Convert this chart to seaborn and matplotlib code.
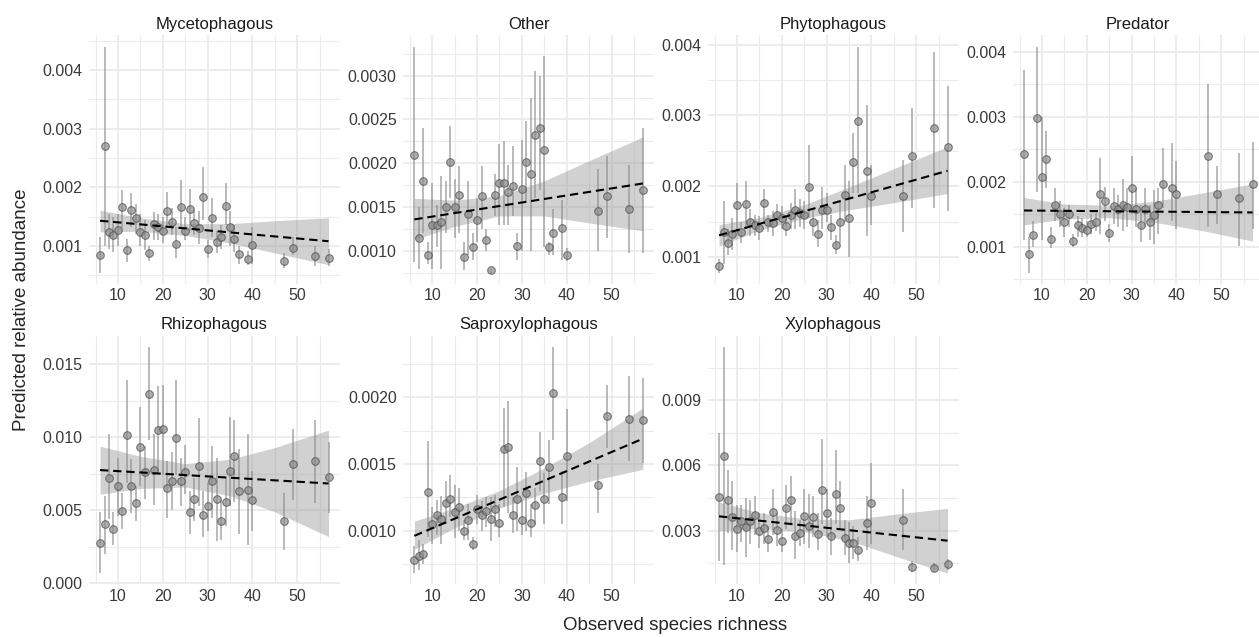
import matplotlib
matplotlib.use("Agg")
import matplotlib.pyplot as plt
import pandas as pd
import seaborn as sns
from matplotlib.ticker import MultipleLocator, FormatStrFormatter

# ============================================
# Predicted relative abundance of feeding guilds
# against observed species richness
# ============================================

# observed species richness of each site (shared x for every panel)
richness = [6, 7, 8, 9, 10, 11, 12, 13, 14, 15, 16, 17, 18, 19, 20, 21,
            22, 23, 24, 25, 26, 27, 28, 29, 30, 31, 32, 33, 34, 35, 36, 37,
            39, 40, 47, 49, 54, 57]

guilds = ["Mycetophagous", "Other", "Phytophagous", "Predator",
          "Rhizophagous", "Saproxylophagous", "Xylophagous"]

# --- predicted value and interval per site ---
myc_est = [0.00085, 0.0027, 0.00124, 0.00118, 0.00127, 0.00167, 0.00093, 0.00161,
           0.00148, 0.00123, 0.00118, 0.00088, 0.00137, 0.00132, 0.00126, 0.0016,
           0.0014, 0.00103, 0.00166, 0.00126, 0.00163, 0.00139, 0.00131, 0.00183,
           0.00095, 0.00148, 0.00106, 0.00116, 0.00168, 0.00133, 0.00111, 0.00086,
           0.00078, 0.00101, 0.00075, 0.00097, 0.00083, 0.0008]
myc_lo = [0.00054, 0.001, 0.00095, 0.0009, 0.001, 0.0013, 0.00073, 0.00132,
          0.0012, 0.001, 0.00093, 0.00075, 0.0011, 0.0011, 0.00105, 0.00133,
          0.00118, 0.0008, 0.0013, 0.0011, 0.00125, 0.00118, 0.00103, 0.00145,
          0.0008, 0.00116, 0.00088, 0.00095, 0.00135, 0.001, 0.0009, 0.0007,
          0.00068, 0.0007, 0.00063, 0.00085, 0.00065, 0.00065]
myc_hi = [0.00115, 0.0044, 0.00155, 0.0015, 0.00155, 0.00195, 0.00112, 0.0019,
          0.00172, 0.00155, 0.00145, 0.001, 0.00158, 0.00155, 0.0015, 0.00192,
          0.00165, 0.00132, 0.00212, 0.0015, 0.00198, 0.00162, 0.0016, 0.00235,
          0.0011, 0.00182, 0.00125, 0.00135, 0.00207, 0.0016, 0.00135, 0.001,
          0.00092, 0.00133, 0.00088, 0.00115, 0.001, 0.00095]

oth_est = [0.0021, 0.00115, 0.0018, 0.00095, 0.0013, 0.0013, 0.00133, 0.0015,
           0.00201, 0.0015, 0.00164, 0.00093, 0.00142, 0.00105, 0.00135, 0.00163,
           0.00112, 0.00078, 0.00164, 0.00177, 0.00178, 0.00167, 0.00174, 0.00106,
           0.00171, 0.00202, 0.00188, 0.00232, 0.0024, 0.00215, 0.00104, 0.00121,
           0.00126, 0.00095, 0.00146, 0.00163, 0.00148, 0.00169]
oth_lo = [0.00087, 0.0008, 0.0012, 0.00085, 0.0008, 0.00105, 0.0008, 0.0012,
          0.0016, 0.00115, 0.0012, 0.00078, 0.00095, 0.0009, 0.0011, 0.00125,
          0.001, 0.00075, 0.0014, 0.0013, 0.0013, 0.0013, 0.0014, 0.0009,
          0.001, 0.00155, 0.001, 0.0016, 0.0017, 0.00105, 0.00095, 0.00095,
          0.0009, 0.00088, 0.001, 0.00115, 0.00098, 0.00098]
oth_hi = [0.00333, 0.0015, 0.0024, 0.0011, 0.00178, 0.00153, 0.00185, 0.0018,
          0.00242, 0.00182, 0.00197, 0.0011, 0.0018, 0.0012, 0.0016, 0.00197,
          0.00125, 0.0008, 0.00188, 0.00222, 0.00225, 0.00198, 0.0022, 0.0012,
          0.00227, 0.00248, 0.00275, 0.00305, 0.003, 0.00322, 0.0011, 0.00148,
          0.00158, 0.00103, 0.00193, 0.00208, 0.00198, 0.0024]

phy_est = [0.00088, 0.00136, 0.0012, 0.00133, 0.00174, 0.00136, 0.00175, 0.0015,
           0.00145, 0.00141, 0.00177, 0.0015, 0.00148, 0.0016, 0.00156, 0.00144,
           0.00159, 0.00167, 0.00162, 0.00159, 0.00199, 0.0015, 0.00133, 0.00167,
           0.00167, 0.00143, 0.00118, 0.0015, 0.00188, 0.00156, 0.00235, 0.00292,
           0.00222, 0.00187, 0.00187, 0.00243, 0.00282, 0.00255]
phy_lo = [0.00078, 0.0009, 0.00103, 0.0011, 0.00135, 0.0012, 0.0014, 0.0013,
          0.0013, 0.00125, 0.0015, 0.00135, 0.0013, 0.00145, 0.0014, 0.0013,
          0.0014, 0.0014, 0.00143, 0.0014, 0.00155, 0.0013, 0.00115, 0.0014,
          0.0015, 0.00125, 0.00105, 0.0012, 0.0015, 0.001, 0.0019, 0.0019,
          0.0013, 0.00145, 0.00135, 0.0017, 0.0017, 0.00165]
phy_hi = [0.00098, 0.0018, 0.0014, 0.00155, 0.00205, 0.0015, 0.00208, 0.00168,
          0.0016, 0.00158, 0.00197, 0.0016, 0.00165, 0.00175, 0.00172, 0.00158,
          0.00177, 0.00197, 0.00182, 0.0018, 0.00258, 0.0017, 0.00152, 0.00199,
          0.0019, 0.0016, 0.00132, 0.0018, 0.0023, 0.00208, 0.00275, 0.00397,
          0.00315, 0.0023, 0.00237, 0.0031, 0.0039, 0.00342]

pre_est = [0.00243, 0.00089, 0.00118, 0.00298, 0.00208, 0.00235, 0.00112, 0.00164,
           0.0015, 0.00139, 0.00151, 0.00109, 0.00133, 0.00129, 0.00126, 0.00135,
           0.00139, 0.00181, 0.0017, 0.00122, 0.00163, 0.00159, 0.00165, 0.00161,
           0.00191, 0.00159, 0.00134, 0.00158, 0.00139, 0.00149, 0.00164, 0.00196,
           0.0019, 0.00181, 0.0024, 0.00181, 0.00175, 0.00196]
pre_lo = [0.0011, 0.0006, 0.001, 0.00185, 0.0011, 0.0019, 0.00098, 0.0014,
          0.0013, 0.00115, 0.0013, 0.001, 0.00115, 0.00115, 0.00115, 0.0012,
          0.00125, 0.0012, 0.0014, 0.00108, 0.00135, 0.0013, 0.00125, 0.0013,
          0.0015, 0.0013, 0.00107, 0.0013, 0.0011, 0.00105, 0.0012, 0.0016,
          0.0014, 0.00128, 0.0013, 0.00135, 0.00102, 0.00128]
pre_hi = [0.00372, 0.00115, 0.0014, 0.00408, 0.003, 0.00278, 0.0013, 0.0019,
          0.0017, 0.0016, 0.00165, 0.0012, 0.00148, 0.00145, 0.0014, 0.0015,
          0.00152, 0.00237, 0.00192, 0.00135, 0.0019, 0.0018, 0.00205, 0.0019,
          0.0024, 0.0019, 0.00165, 0.0019, 0.00165, 0.00188, 0.0019, 0.00252,
          0.0026, 0.00232, 0.0035, 0.00225, 0.00245, 0.00262]

rhi_est = [0.00278, 0.00404, 0.00721, 0.00372, 0.00664, 0.00496, 0.01018, 0.00666,
           0.00549, 0.00933, 0.0076, 0.01295, 0.00779, 0.01054, 0.01057, 0.0065,
           0.00703, 0.00997, 0.00698, 0.00762, 0.00491, 0.00577, 0.00802, 0.00471,
           0.0053, 0.00703, 0.00581, 0.00427, 0.00558, 0.00772, 0.0087, 0.00634,
           0.00641, 0.0057, 0.0043, 0.00818, 0.00841, 0.00726]
rhi_lo = [0.0007, 0.002, 0.0044, 0.0026, 0.0046, 0.0037, 0.0069, 0.0048,
          0.0043, 0.0067, 0.0058, 0.0098, 0.0054, 0.0077, 0.0074, 0.0045,
          0.005, 0.0074, 0.0053, 0.0061, 0.0034, 0.0043, 0.0053, 0.0032,
          0.0036, 0.0045, 0.0029, 0.003, 0.0039, 0.0053, 0.0056, 0.0034,
          0.0026, 0.0036, 0.0023, 0.0057, 0.0055, 0.0048]
rhi_hi = [0.0049, 0.006, 0.0102, 0.0049, 0.0086, 0.0062, 0.0139, 0.0085,
          0.0067, 0.0121, 0.0094, 0.0162, 0.0102, 0.0135, 0.0136, 0.0084,
          0.009, 0.0139, 0.0086, 0.0095, 0.0063, 0.0072, 0.0113, 0.0063,
          0.0069, 0.0094, 0.0086, 0.0057, 0.0073, 0.0114, 0.0112, 0.0092,
          0.0102, 0.0077, 0.0062, 0.0106, 0.0112, 0.0097]

sap_est = [0.00078, 0.00081, 0.00082, 0.00129, 0.00105, 0.00112, 0.00109, 0.00121,
           0.00124, 0.00114, 0.00118, 0.001, 0.00108, 0.0009, 0.00116, 0.00112,
           0.00115, 0.00109, 0.00116, 0.00106, 0.00161, 0.00163, 0.00112, 0.00124,
           0.00108, 0.00128, 0.00106, 0.00119, 0.00152, 0.00124, 0.00148, 0.00203,
           0.00125, 0.00156, 0.00134, 0.00186, 0.00184, 0.00183]
sap_lo = [0.00068, 0.0007, 0.00075, 0.00095, 0.0009, 0.00097, 0.0009, 0.00105,
          0.0011, 0.00094, 0.001, 0.00093, 0.00093, 0.00085, 0.00105, 0.001,
          0.00103, 0.00092, 0.00103, 0.00095, 0.00118, 0.00113, 0.00098, 0.001,
          0.00097, 0.001, 0.00095, 0.00105, 0.0013, 0.00105, 0.0012, 0.00168,
          0.00105, 0.00122, 0.00113, 0.00162, 0.00152, 0.00151]
sap_hi = [0.00088, 0.00093, 0.0009, 0.00167, 0.00118, 0.00123, 0.00126, 0.00137,
          0.00142, 0.00134, 0.00132, 0.00108, 0.0012, 0.00095, 0.00127, 0.00122,
          0.00125, 0.00125, 0.00127, 0.0012, 0.00192, 0.00197, 0.00125, 0.00148,
          0.00123, 0.00144, 0.0012, 0.00132, 0.00174, 0.00143, 0.00168, 0.00238,
          0.00145, 0.00191, 0.0015, 0.00209, 0.00216, 0.00215]

xyl_est = [0.00454, 0.00643, 0.00442, 0.00362, 0.00308, 0.00346, 0.00315, 0.00346,
           0.00374, 0.00297, 0.00312, 0.00262, 0.00385, 0.00305, 0.00254, 0.00403,
           0.00442, 0.00277, 0.00289, 0.00366, 0.00323, 0.00365, 0.00285, 0.00489,
           0.0038, 0.00274, 0.00469, 0.00403, 0.00265, 0.00242, 0.00243, 0.00211,
           0.00335, 0.00426, 0.00349, 0.00134, 0.00128, 0.00146]
xyl_lo = [0.0016, 0.0014, 0.0029, 0.0021, 0.002, 0.0025, 0.0018, 0.0024,
          0.0028, 0.0022, 0.0024, 0.002, 0.0028, 0.0023, 0.002, 0.0031,
          0.0033, 0.0017, 0.0023, 0.0024, 0.0022, 0.0027, 0.0021, 0.0033,
          0.0027, 0.0019, 0.0033, 0.0031, 0.0019, 0.0015, 0.0017, 0.0016,
          0.0021, 0.0024, 0.0021, 0.0011, 0.0011, 0.0012]
xyl_hi = [0.0075, 0.01145, 0.0058, 0.0053, 0.0042, 0.0042, 0.0045, 0.0044,
          0.0046, 0.0038, 0.0038, 0.0032, 0.0049, 0.0038, 0.0031, 0.0051,
          0.0055, 0.0039, 0.0035, 0.0049, 0.0047, 0.0046, 0.0038, 0.0072,
          0.0049, 0.0036, 0.0067, 0.0053, 0.0035, 0.0034, 0.0032, 0.0027,
          0.0046, 0.0061, 0.0049, 0.0016, 0.0015, 0.0017]

# --- fitted trend (dashed line) at both ends of the richness range ---
fit_x = [6, 57]
myc_fit = [0.00143, 0.00108]
oth_fit = [0.00136, 0.00177]
phy_fit = [0.00131, 0.00222]
pre_fit = [0.00156, 0.00153]
rhi_fit = [0.00776, 0.00684]
sap_fit = [0.00096, 0.00169]
xyl_fit = [0.00366, 0.00254]

# --- confidence ribbon of the trend ---
band_x = [6, 15, 25, 35, 45, 57]
myc_band_lo = [0.00124, 0.00125, 0.00118, 0.00105, 0.00088, 0.00068]
myc_band_hi = [0.00161, 0.00148, 0.00138, 0.00138, 0.00143, 0.00148]
oth_band_lo = [0.00113, 0.00128, 0.0014, 0.0014, 0.00132, 0.00123]
oth_band_hi = [0.0016, 0.00158, 0.00163, 0.0018, 0.00203, 0.0023]
phy_band_lo = [0.00116, 0.00138, 0.00155, 0.00167, 0.00177, 0.0019]
phy_band_hi = [0.00146, 0.00156, 0.00174, 0.00199, 0.00225, 0.00256]
pre_band_lo = [0.00134, 0.00143, 0.00145, 0.00138, 0.00126, 0.00109]
pre_band_hi = [0.00176, 0.00166, 0.00164, 0.0017, 0.00182, 0.00197]
rhi_band_lo = [0.0061, 0.0065, 0.0066, 0.006, 0.0049, 0.0032]
rhi_band_hi = [0.0094, 0.0087, 0.0082, 0.0085, 0.0093, 0.0105]
sap_band_lo = [0.00086, 0.00102, 0.00117, 0.00128, 0.00137, 0.00146]
sap_band_hi = [0.00107, 0.00117, 0.0013, 0.00147, 0.00166, 0.00192]
xyl_band_lo = [0.003, 0.0031, 0.00295, 0.00255, 0.00185, 0.00105]
xyl_band_hi = [0.00432, 0.00382, 0.00355, 0.0035, 0.00375, 0.00403]

est = [myc_est, oth_est, phy_est, pre_est, rhi_est, sap_est, xyl_est]
lo = [myc_lo, oth_lo, phy_lo, pre_lo, rhi_lo, sap_lo, xyl_lo]
hi = [myc_hi, oth_hi, phy_hi, pre_hi, rhi_hi, sap_hi, xyl_hi]
fits = [myc_fit, oth_fit, phy_fit, pre_fit, rhi_fit, sap_fit, xyl_fit]
band_lo = [myc_band_lo, oth_band_lo, phy_band_lo, pre_band_lo,
           rhi_band_lo, sap_band_lo, xyl_band_lo]
band_hi = [myc_band_hi, oth_band_hi, phy_band_hi, pre_band_hi,
           rhi_band_hi, sap_band_hi, xyl_band_hi]

# y tick step and decimals per panel (free y scales)
y_step = [0.001, 0.0005, 0.001, 0.001, 0.005, 0.0005, 0.003]
y_dec = [3, 4, 3, 3, 3, 4, 3]

sns.set_theme(style="white")
plt.rcParams["font.family"] = ["Liberation Sans", "DejaVu Sans"]

W, H = 1259, 637
fig = plt.figure(figsize=(W / 100, H / 100), dpi=100)

# panel placement in pixels (left of each column, top of each row)
col_left = [88.6, 402.9, 707.6, 1012.6]
row_top = [35.4, 335.6]
pw, ph = 251.4, 248.8

for i, g in enumerate(guilds):
    r, c = divmod(i, 4)
    ax = fig.add_axes([col_left[c] / W, 1 - (row_top[r] + ph) / H, pw / W, ph / H])

    df = pd.DataFrame({"richness": richness, "est": est[i], "lo": lo[i], "hi": hi[i]})

    ax.fill_between(band_x, band_lo[i], band_hi[i], color="#999999",
                    alpha=0.45, lw=0, zorder=1)
    ax.vlines(df["richness"], df["lo"], df["hi"], color="#8a8a8a",
              alpha=0.75, lw=1.1, zorder=2)
    sns.scatterplot(data=df, x="richness", y="est", ax=ax, color="#8c8c8c",
                    edgecolor="#4d4d4d", linewidth=0.8, alpha=0.7, s=30, zorder=3)
    sns.lineplot(x=fit_x, y=fits[i], ax=ax, color="black", lw=1.5,
                 linestyle=(0, (4, 2.3)), zorder=4)

    ax.margins(x=0.05, y=0.05)
    ax.xaxis.set_major_locator(MultipleLocator(10))
    ax.xaxis.set_minor_locator(MultipleLocator(5))
    ax.yaxis.set_major_locator(MultipleLocator(y_step[i]))
    ax.yaxis.set_minor_locator(MultipleLocator(y_step[i] / 2))
    ax.yaxis.set_major_formatter(FormatStrFormatter(f"%.{y_dec[i]}f"))
    ax.grid(which="major", color="#ebebeb", lw=1.3, zorder=0)
    ax.grid(which="minor", color="#ebebeb", lw=0.8, zorder=0)
    ax.set_axisbelow(True)
    for s in ax.spines.values():
        s.set_visible(False)
    ax.tick_params(which="both", length=0, labelsize=11.5, labelcolor="#3a3a3a")
    ax.tick_params(axis="y", pad=4.5)
    ax.tick_params(axis="x", pad=3)
    ax.set_xlabel("")
    ax.set_ylabel("")
    ax.set_title(g, fontsize=12, color="#1a1a1a", pad=4.5)

fig.text(675.5 / W, 1 - 625 / H, "Observed species richness", ha="center",
         va="center", fontsize=13.5)
fig.text(22 / W, 1 - 310 / H, "Predicted relative abundance", ha="center",
         va="center", rotation=90, fontsize=13.5)

fig.savefig("out.png", dpi=100)
